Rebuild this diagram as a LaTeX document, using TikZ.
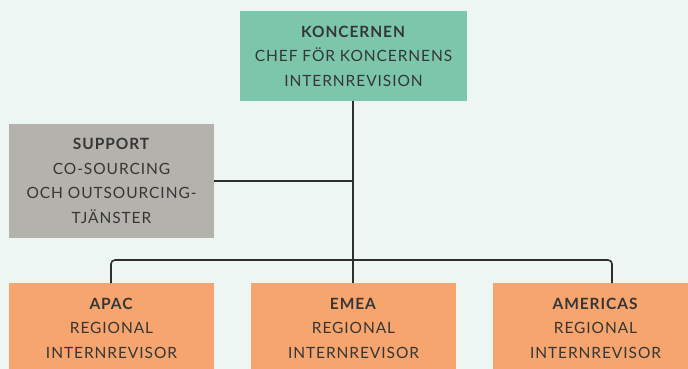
\documentclass[tikz,border=0pt]{standalone}
\usepackage{fontspec}
\setmainfont{Lato}[LetterSpace=6]
\definecolor{bgc}{HTML}{EEF6F3}
\definecolor{teal}{HTML}{7CC6AC}
\definecolor{greyc}{HTML}{B4B2AD}
\definecolor{orangec}{HTML}{F5A56D}
\definecolor{txt}{HTML}{363636}
\definecolor{linec}{HTML}{2E2E2E}
\tikzset{
  box/.style={inner sep=0pt, align=center, text=txt, font=\fontsize{15.5}{24.5}\selectfont},
  conn/.style={draw=linec, line width=1.6pt},
}
\begin{document}
\begin{tikzpicture}[x=1pt,y=-1pt]
\useasboundingbox (0,0) rectangle (688,369);
\clip (0,0) rectangle (688,369);
\fill[bgc] (0,0) rectangle (688,369);
\node[box, fill=teal, minimum width=227pt, minimum height=90pt] (top) at (353.5,56) {\textbf{KONCERNEN}\\CHEF FÖR KONCERNENS\\INTERNREVISION};
\node[box, fill=greyc, minimum width=205pt, minimum height=114pt] (sup) at (111.5,181) {\textbf{SUPPORT}\\CO-SOURCING\\OCH OUTSOURCING-\\TJÄNSTER};
\node[box, fill=orangec, minimum width=205pt, minimum height=90pt] (apac) at (111.5,328.3) {\textbf{APAC}\\REGIONAL\\INTERNREVISOR};
\node[box, fill=orangec, minimum width=205pt, minimum height=90pt] (emea) at (353.5,328.3) {\textbf{EMEA}\\REGIONAL\\INTERNREVISOR};
\node[box, fill=orangec, minimum width=205pt, minimum height=90pt] (amer) at (595.5,328.3) {\textbf{AMERICAS}\\REGIONAL\\INTERNREVISOR};
\coordinate (hub) at (353,260);
\coordinate (sj) at (353,181);
\draw[conn] (top.south -| hub) -- (emea.north -| hub);
\draw[conn] (sup.east) -- (sj);
\draw[conn, rounded corners=4pt] (apac.north -| 111,0) -- (111,260) -- (612,260) -- (amer.north -| 612,0);
\end{tikzpicture}
\end{document}
